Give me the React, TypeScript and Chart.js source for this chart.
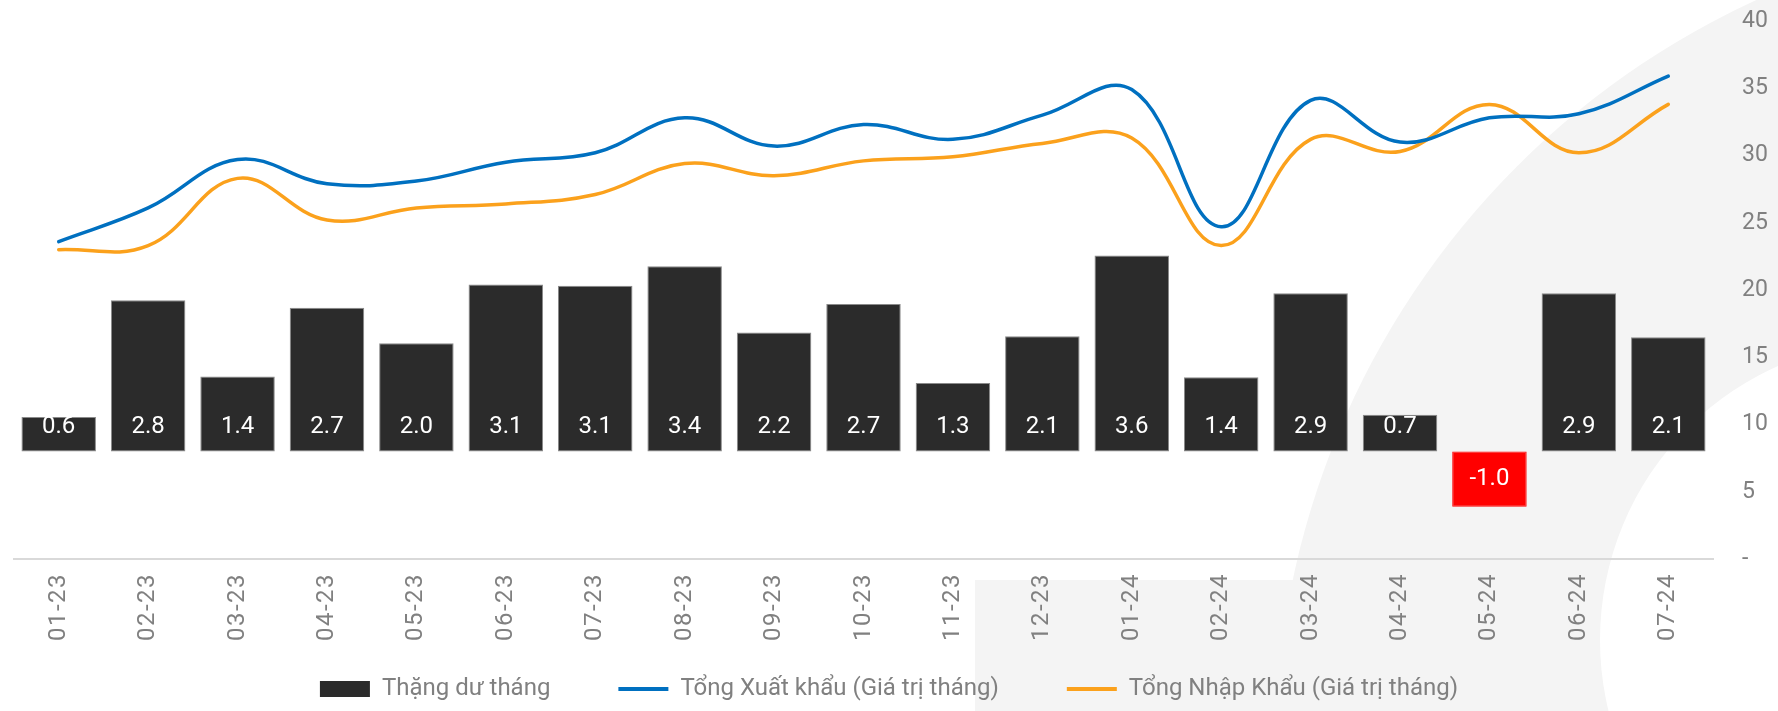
import React, { useEffect, useRef } from 'react';
import { Chart, registerables } from 'chart.js';

Chart.register(...registerables);

const months = ['01-23', '02-23', '03-23', '04-23', '05-23', '06-23', '07-23', '08-23', '09-23', '10-23', '11-23', '12-23', '01-24', '02-24', '03-24', '04-24', '05-24', '06-24', '07-24'];
const surplus = [0.64, 2.81, 1.39, 2.67, 2.01, 3.1, 3.08, 3.44, 2.21, 2.74, 1.27, 2.14, 3.64, 1.38, 2.94, 0.68, -1.03, 2.94, 2.12];
const exportsMonthly = [23.6, 26.1, 29.7, 27.9, 28.1, 29.5, 30.2, 32.8, 30.7, 32.3, 31.2, 33.0, 34.9, 24.7, 34.1, 31.0, 32.8, 33.1, 35.9];
const importsMonthly = [23.0, 23.3, 28.3, 25.2, 26.1, 26.4, 27.1, 29.4, 28.5, 29.6, 29.9, 30.9, 31.3, 23.3, 31.2, 30.3, 33.8, 30.2, 33.8];
const seriesNames = ['Thặng dư tháng', 'Tổng Xuất khẩu (Giá trị tháng)', 'Tổng Nhập Khẩu (Giá trị tháng)'];

const FONT = 'Roboto';
const GRAY = '#808080';
const BAR = '#2B2B2B';
const NEG = '#FF0000';
const BLUE = '#0070C0';
const ORANGE = '#FBA11C';

const watermark = {
  id: 'watermark',
  beforeDraw(chart: any) {
    const ctx = chart.ctx;
    const w = chart.width;
    const h = chart.height;
    ctx.save();
    ctx.fillStyle = '#f4f4f4';
    ctx.beginPath();
    ctx.arc(2100, 750, 825, 0, Math.PI * 2);
    ctx.fill();
    ctx.fillRect(975, 580, w - 975, h - 580);
    ctx.fillStyle = '#ffffff';
    ctx.beginPath();
    ctx.arc(1900, 640, 300, 0, Math.PI * 2);
    ctx.fill();
    ctx.restore();
  },
};

const barLabels = {
  id: 'barLabels',
  afterDatasetsDraw(chart: any) {
    const meta = chart.getDatasetMeta(0);
    const ctx = chart.ctx;
    ctx.save();
    ctx.font = `24px ${FONT}`;
    ctx.fillStyle = '#ffffff';
    ctx.textAlign = 'center';
    ctx.textBaseline = 'middle';
    meta.data.forEach((el: any, i: number) => {
      const v = surplus[i];
      const p = el.getProps(['x', 'y', 'base'], true);
      const ty = v < 0 ? (p.y + p.base) / 2 : p.base - 24;
      ctx.fillText(v.toFixed(1), p.x, ty);
    });
    ctx.restore();
  },
};

export default function App() {
  const ref = useRef<HTMLCanvasElement | null>(null);

  useEffect(() => {
    if (!ref.current) return;
    Chart.defaults.font.family = FONT;
    const chart = new Chart(ref.current, {
      type: 'bar',
      data: {
        labels: months,
        datasets: [
          {
            type: 'bar',
            label: seriesNames[0],
            data: surplus,
            yAxisID: 'y1',
            backgroundColor: surplus.map((v) => (v < 0 ? NEG : BAR)),
            borderColor: surplus.map((v) => (v < 0 ? NEG : '#8a8a8a')),
            borderWidth: 1,
            borderSkipped: false,
            categoryPercentage: 1,
            barPercentage: 0.833,
          },
          {
            type: 'line',
            label: seriesNames[1],
            data: exportsMonthly,
            yAxisID: 'y',
            borderColor: BLUE,
            backgroundColor: BLUE,
            borderWidth: 3.5,
            tension: 0.4,
            pointRadius: 0,
            fill: false,
            borderCapStyle: 'round',
          },
          {
            type: 'line',
            label: seriesNames[2],
            data: importsMonthly,
            yAxisID: 'y',
            borderColor: ORANGE,
            backgroundColor: ORANGE,
            borderWidth: 3.5,
            tension: 0.4,
            pointRadius: 0,
            fill: false,
            borderCapStyle: 'round',
          },
        ],
      } as any,
      options: {
        responsive: false,
        animation: false,
        layout: { padding: { top: 21, left: 0, right: 0, bottom: 0 } },
        plugins: {
          tooltip: { enabled: false },
          legend: {
            position: 'bottom',
            labels: {
              usePointStyle: true,
              pointStyleWidth: 50,
              boxHeight: 16,
              padding: 68,
              color: GRAY,
              font: { family: FONT, size: 24 },
              generateLabels(chart: any) {
                const items = (Chart.defaults.plugins.legend.labels as any).generateLabels(chart);
                return items.map((it: any, i: number) =>
                  i === 0
                    ? { ...it, pointStyle: 'rect', fillStyle: BAR, strokeStyle: BAR, lineWidth: 0 }
                    : { ...it, pointStyle: 'line', lineWidth: 4 }
                );
              },
            },
          },
        },
        scales: {
          x: {
            offset: true,
            grid: { display: false, drawTicks: false },
            border: { display: true, color: '#d9d9d9', width: 2 },
            ticks: {
              autoSkip: false,
              maxRotation: 90,
              minRotation: 90,
              padding: 14,
              color: GRAY,
              font: { family: FONT, size: 24 },
            },
            afterFit(s: any) {
              s.height = 50;
            },
            afterUpdate(s: any) {
              if (!s.__spaced) {
                const orig = s.drawLabels.bind(s);
                s._computeLabelArea = () => undefined;
                s.drawLabels = (area: any) => {
                  const c: any = s.ctx;
                  const prev = c.letterSpacing;
                  c.letterSpacing = '1.5px';
                  orig(area);
                  c.letterSpacing = prev || '0px';
                };
                s.__spaced = true;
              }
            },
          },
          y: {
            position: 'right',
            min: 0,
            max: 40,
            grid: { display: false, drawTicks: false },
            border: { display: false },
            ticks: {
              stepSize: 5,
              padding: 29,
              color: GRAY,
              font: { family: FONT, size: 23 },
              callback: (v: any) => (Number(v) === 0 ? '-' : String(v)),
            },
            afterFit(s: any) {
              s.width = 65;
              s.paddingTop = 14;
              s.paddingBottom = 14;
            },
          },
          y1: {
            position: 'left',
            min: -2,
            max: 8,
            grid: { display: false, drawTicks: false },
            border: { display: false },
            ticks: { display: false },
            afterFit(s: any) {
              s.width = 14;
              s.paddingTop = 0;
              s.paddingBottom = 0;
            },
          },
        },
      } as any,
      plugins: [watermark, barLabels],
    });
    return () => chart.destroy();
  }, []);

  return (
    <div style={{ position: 'fixed', left: 0, top: 0, width: 1778, height: 711, background: '#ffffff' }}>
      <canvas ref={ref} width={1778} height={711} style={{ display: 'block', width: 1778, height: 711 }} />
    </div>
  );
}
